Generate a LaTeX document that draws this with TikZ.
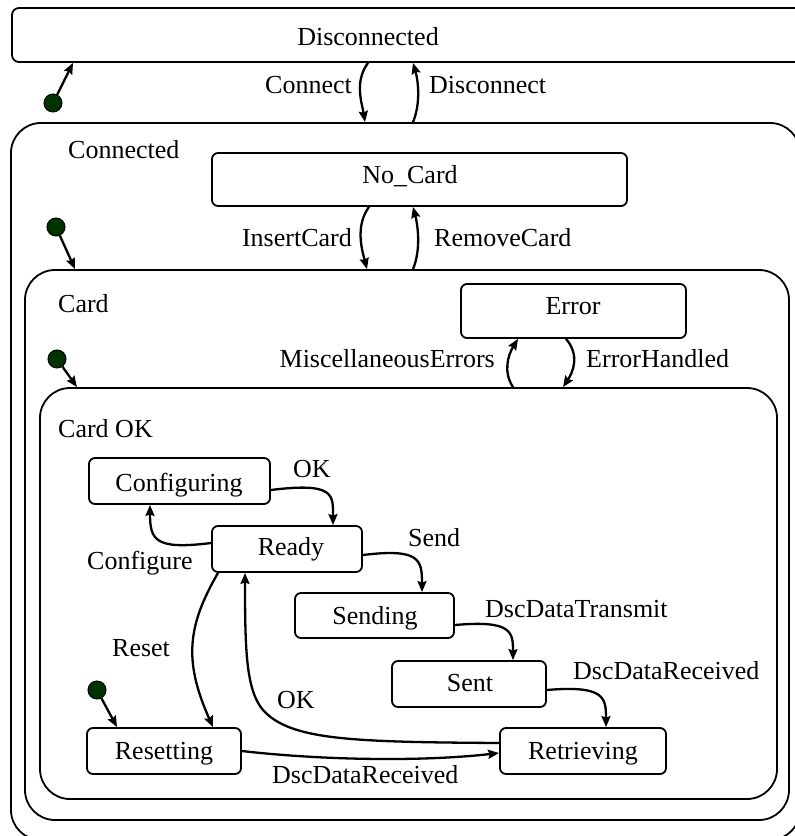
\documentclass[tikz,border=0pt]{standalone}
\usepackage{fontspec}
\setmainfont{Liberation Serif}
\usetikzlibrary{arrows.meta}
\definecolor{initgreen}{RGB}{0,51,0}
\begin{document}
\begin{tikzpicture}[x=1bp,y=-1bp,
  font=\fontsize{26bp}{31bp}\selectfont,
  container/.style={draw, line width=1.8bp, rounded corners=30bp, inner sep=0pt},
  statebox/.style={draw, line width=1.8bp, rounded corners=6bp, inner sep=0pt},
  lbl/.style={inner sep=0pt},
  initdot/.style={circle, draw, line width=1bp, fill=initgreen, minimum size=18bp, inner sep=0pt},
  trans/.style={line width=2.3bp, -{Stealth[length=11bp,width=9bp,inset=1.5bp]}}]
\clip (0,0) rectangle (795,836);
\path[use as bounding box] (0,0) rectangle (795,836);

% composite states
\node[container, rounded corners=7bp, minimum width=798bp, minimum height=54bp] (disc) at (411,35) {};
\node[container, minimum width=789bp, minimum height=717bp] (conn) at (405.5,481.5) {};
\node[container, minimum width=764bp, minimum height=550bp] (card) at (407,545) {};
\node[container, minimum width=737bp, minimum height=411bp] (cardok) at (408.5,593.5) {};

% simple states
\node[statebox, minimum width=415bp, minimum height=53bp] (nocard) at (419.5,179.5) {};
\node[statebox, minimum width=225bp, minimum height=54bp] (error) at (573.5,311) {};
\node[statebox, minimum width=181bp, minimum height=46bp] (config) at (179.5,481) {};
\node[statebox, minimum width=150bp, minimum height=46bp] (ready) at (287,549) {};
\node[statebox, minimum width=159bp, minimum height=45bp] (sending) at (374.5,615.5) {};
\node[statebox, minimum width=154bp, minimum height=46bp] (sent) at (469,684) {};
\node[statebox, minimum width=166bp, minimum height=46bp] (retr) at (583,751) {};
\node[statebox, minimum width=154bp, minimum height=46bp] (reset) at (164,751) {};

% state names
\node[lbl, anchor=base] (disc-t) at (368,45) {Disconnected};
\node[lbl, anchor=base west] (conn-t) at (68,158) {Connected};
\node[lbl, anchor=base] (nocard-t) at (410,183) {No\_Card};
\node[lbl, anchor=base west] (card-t) at (58,312) {Card};
\node[lbl, anchor=base] (error-t) at (573,314) {Error};
\node[lbl, anchor=base west] (cardok-t) at (58,437) {Card OK};
\node[lbl, anchor=base] (config-t) at (179,491) {Configuring};
\node[lbl, anchor=base] (ready-t) at (291,555) {Ready};
\node[lbl, anchor=base] (sending-t) at (375,624) {Sending};
\node[lbl, anchor=base] (sent-t) at (470,691) {Sent};
\node[lbl, anchor=base] (retr-t) at (583,759) {Retrieving};
\node[lbl, anchor=base] (reset-t) at (164,759) {Resetting};

% transition labels
\node[lbl, anchor=base east] (l-connect) at (352,93) {Connect};
\node[lbl, anchor=base west] (l-disconnect) at (429,93) {Disconnect};
\node[lbl, anchor=base east] (l-insert) at (352,246) {InsertCard};
\node[lbl, anchor=base west] (l-remove) at (434,246) {RemoveCard};
\node[lbl, anchor=base east] (l-misc) at (495,367) {MiscellaneousErrors};
\node[lbl, anchor=base west] (l-handled) at (586,367) {ErrorHandled};
\node[lbl, anchor=base west] (l-ok1) at (293,477) {OK};
\node[lbl, anchor=base west] (l-configure) at (87,569) {Configure};
\node[lbl, anchor=base west] (l-send) at (408,546) {Send};
\node[lbl, anchor=base west] (l-transmit) at (485,617) {DscDataTransmit};
\node[lbl, anchor=base west] (l-received1) at (573,679) {DscDataReceived};
\node[lbl, anchor=base west] (l-reset) at (112,656) {Reset};
\node[lbl, anchor=base west] (l-ok2) at (277,708) {OK};
\node[lbl, anchor=base west] (l-received2) at (272,783) {DscDataReceived};

% initial pseudo-states
\node[initdot] (i-disc) at (53,103) {};
\node[initdot] (i-conn) at (56,227) {};
\node[initdot] (i-card) at (57,359) {};
\node[initdot] (i-cardok) at (97,690) {};

\draw[trans] (i-disc) -- (73,0 |- disc.south);
\draw[trans] (i-conn) -- (75,0 |- card.north);
\draw[trans] (i-card) -- (77,0 |- cardok.north);
\draw[trans] (i-cardok) -- (117,0 |- reset.north);

% transitions
\draw[trans] (368,0 |- disc.south) .. controls (354,82) and (362,103) .. (365,0 |- conn.north);
\draw[trans] (413,0 |- conn.north) .. controls (421,103) and (418,80) .. (413,0 |- disc.south);
\draw[trans] (369,0 |- nocard.south) .. controls (355,226) and (362,250) .. (367,0 |- card.north);
\draw[trans] (413,0 |- card.north) .. controls (421,250) and (418,226) .. (413,0 |- nocard.south);
\draw[trans] (513,0 |- cardok.north) .. controls (503,372) and (508,355) .. (518,0 |- error.south);
\draw[trans] (566,0 |- error.south) .. controls (580,355) and (573,372) .. (563,0 |- cardok.north);
\draw[trans] (config.east |- 0,490) .. controls (335,482) and (333,495) .. (333,0 |- ready.north);
\draw[trans] (ready.west |- 0,543) .. controls (155,550) and (150,540) .. (150,0 |- config.south);
\draw[trans] (ready.east |- 0,555) .. controls (420,548) and (422,560) .. (422,0 |- sending.north);
\draw[trans] (sending.east |- 0,625) .. controls (512,620) and (513,632) .. (513,0 |- sent.north);
\draw[trans] (sent.east |- 0,690) .. controls (605,685) and (606,698) .. (606,0 |- retr.north);
\draw[trans] (218,0 |- ready.south) .. controls (188,625) and (183,660) .. (213,0 |- reset.north);
\draw[trans] (retr.west |- 0,743) .. controls (350,742) and (290,740) .. (263,710)
  .. controls (246,690) and (245,650) .. (245,0 |- ready.south);
\draw[trans] (reset.east |- 0,751) .. controls (320,760) and (420,762) .. (retr.west |- 0,753);
\end{tikzpicture}
\end{document}
